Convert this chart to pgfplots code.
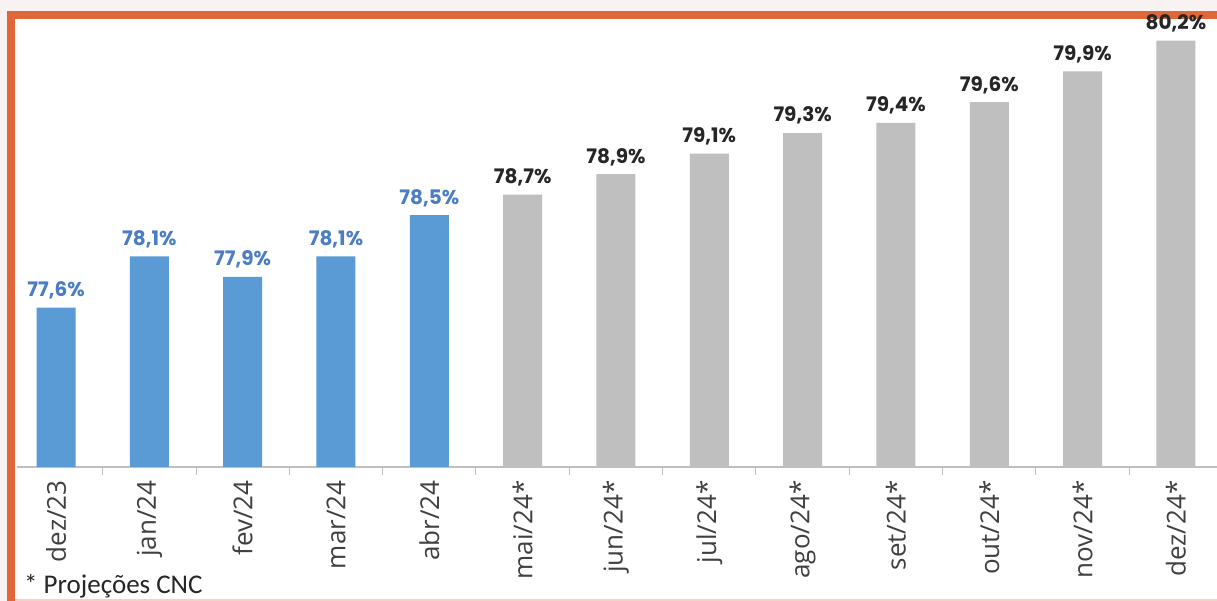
\documentclass[border=0pt]{standalone}
\usepackage{fontspec}
\setmainfont{Open Sans}
\newfontfamily\valfont{Poppins}
\newfontfamily\notefont{Carlito}
\usepackage{pgfplots}
\pgfplotsset{compat=1.18}
\definecolor{borderor}{HTML}{E0673A}
\definecolor{bgc}{HTML}{F8F3F1}
\definecolor{barblue}{HTML}{5B9BD5}
\definecolor{bargrey}{HTML}{BFBFBF}
\definecolor{lblblue}{HTML}{4A7DC4}
\definecolor{lblgrey}{HTML}{262626}
\definecolor{ticktext}{HTML}{404040}
\begin{document}
\begin{tikzpicture}[x=1pt,y=1pt]
\useasboundingbox (0,0) rectangle (1217,601);
\fill[bgc] (0,0) rectangle (1217,601);
\fill[borderor] (7,0) rectangle (1217,590);
\fill[white] (15,2) rectangle (1217,582);
\begin{axis}[
  at={(17pt,134pt)}, anchor=south west,
  scale only axis, width=1200pt, height=448pt,
  xmin=-0.418, xmax=12.44,
  ymin=76.05, ymax=80.41,
  clip=false,
  axis x line*=bottom,
  axis y line=none,
  axis line style={draw=bargrey, line width=1.3pt, -},
  xtick={0,...,12},
  xticklabels={dez/23,jan/24,fev/24,mar/24,abr/24,mai/24*,jun/24*,jul/24*,ago/24*,set/24*,out/24*,nov/24*,dez/24*},
  major tick length=0pt,
  minor xtick={0.5,1.5,...,11.5},
  minor tick length=8pt,
  tick align=outside,
  minor tick style={draw=bargrey, line width=1pt},
  x tick label style={rotate=90, anchor=east, font=\fontsize{26}{30}\selectfont, text=ticktext, xshift=-10pt},
  ytick=\empty,
  ybar, bar width=39pt, bar shift=0pt,
  point meta=explicit symbolic,
  nodes near coords,
  nodes near coords style={anchor=south, yshift=5pt, font=\valfont\bfseries\fontsize{20}{24}\selectfont},
]
\addplot[fill=barblue, draw=none, nodes near coords style={text=lblblue}] coordinates {
  (0,77.6) [77,6\%]
  (1,78.1) [78,1\%]
  (2,77.9) [77,9\%]
  (3,78.1) [78,1\%]
  (4,78.5) [78,5\%]
};
\addplot[fill=bargrey, draw=none, nodes near coords style={text=lblgrey}] coordinates {
  (5,78.7) [78,7\%]
  (6,78.9) [78,9\%]
  (7,79.1) [79,1\%]
  (8,79.3) [79,3\%]
  (9,79.4) [79,4\%]
  (10,79.6) [79,6\%]
  (11,79.9) [79,9\%]
  (12,80.2) [80,2\%]
};
\end{axis}
\node[anchor=north west, inner sep=0pt, text=lblgrey, font=\notefont\fontsize{27}{30}\selectfont] at (24,27) {* Projeções CNC};
\fill[borderor!30] (15,0) rectangle (1217,1.5);
\end{tikzpicture}
\end{document}
